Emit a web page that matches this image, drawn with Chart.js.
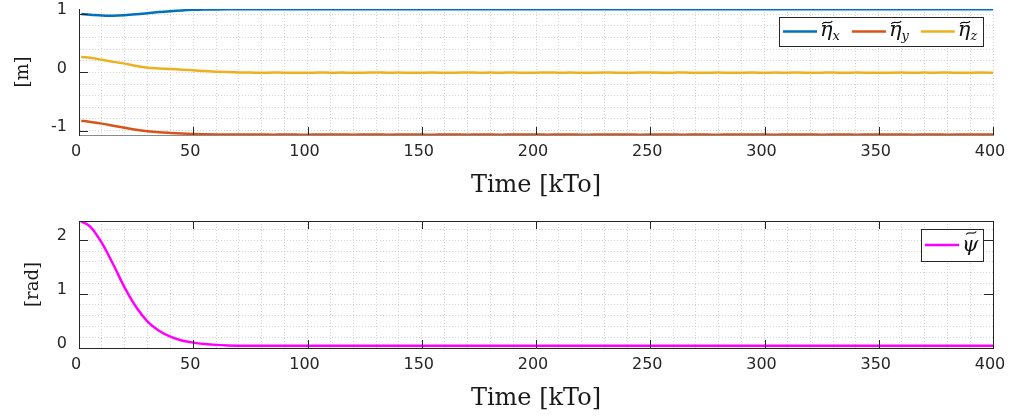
<!DOCTYPE html>
<html>
<head>
<meta charset="utf-8">
<script src="https://cdn.jsdelivr.net/npm/chart.js@4/dist/chart.umd.min.js"></script>
<style>
  html, body { margin: 0; padding: 0; background: #fff; }
  .panel { position: absolute; left: 0; width: 1009px; }
</style>
</head>
<body>
<div class="panel" style="top:0;height:205px"><canvas id="etaChart"></canvas></div>
<div class="panel" style="top:205px;height:214px"><canvas id="psiChart"></canvas></div>
<script>
// time axis [kTo]
var TIME_KTO = [1, 5, 10, 15, 20, 25, 30, 35, 40, 45, 50, 55, 60, 65, 70,
    75, 80, 85, 90, 95, 100, 105, 110, 115, 120, 125,
    130, 135, 140, 145, 150, 155, 160, 165, 170, 175, 180,
    185, 190, 195, 200, 205, 210, 215, 220, 225, 230, 235,
    240, 245, 250, 255, 260, 265, 270, 275, 280, 285, 290,
    295, 300, 305, 310, 315, 320, 325, 330, 335, 340, 345,
    350, 355, 360, 365, 370, 375, 380, 385, 390, 395, 400];

var ETA_X = [1.000, 0.990, 0.976, 0.973, 0.980, 0.995, 1.014, 1.034, 1.050, 1.063, 1.072, 1.077, 1.080, 1.082, 1.083,
    1.083, 1.084, 1.083, 1.083, 1.084, 1.083, 1.084, 1.083, 1.083, 1.084, 1.083,
    1.084, 1.083, 1.083, 1.084, 1.083, 1.083, 1.084, 1.083, 1.084, 1.083, 1.083,
    1.083, 1.084, 1.083, 1.083, 1.083, 1.084, 1.083, 1.084, 1.083, 1.083, 1.084,
    1.083, 1.083, 1.084, 1.083, 1.084, 1.083, 1.083, 1.083, 1.084, 1.083, 1.083,
    1.084, 1.083, 1.083, 1.084, 1.083, 1.083, 1.084, 1.083, 1.083, 1.084, 1.083,
    1.083, 1.084, 1.083, 1.083, 1.084, 1.083, 1.083, 1.084, 1.083, 1.083, 1.083];

var ETA_Y = [-0.830, -0.850, -0.880, -0.915, -0.950, -0.985, -1.010, -1.028, -1.040, -1.050, -1.057, -1.062, -1.065, -1.067, -1.068,
    -1.068, -1.066, -1.069, -1.067, -1.068, -1.070, -1.067, -1.068, -1.066, -1.069, -1.068,
    -1.067, -1.069, -1.068, -1.066, -1.068, -1.070, -1.067, -1.068, -1.069, -1.066, -1.068,
    -1.069, -1.067, -1.068, -1.066, -1.069, -1.068, -1.067, -1.070, -1.068, -1.066, -1.068,
    -1.067, -1.069, -1.068, -1.066, -1.068, -1.069, -1.067, -1.068, -1.070, -1.067, -1.068,
    -1.066, -1.068, -1.069, -1.067, -1.068, -1.066, -1.069, -1.068, -1.067, -1.069, -1.068,
    -1.067, -1.068, -1.066, -1.069, -1.068, -1.067, -1.069, -1.068, -1.066, -1.068, -1.068];

var ETA_Z = [0.265, 0.250, 0.215, 0.180, 0.150, 0.110, 0.080, 0.068, 0.058, 0.045, 0.034, 0.022, 0.012, 0.004, -0.002,
    -0.004, -0.008, -0.002, -0.007, -0.005, -0.009, -0.003, -0.006, -0.004, -0.008, -0.005,
    -0.002, -0.007, -0.004, -0.009, -0.005, -0.003, -0.008, -0.006, -0.002, -0.007, -0.004,
    -0.006, -0.003, -0.008, -0.005, -0.002, -0.007, -0.004, -0.009, -0.005, -0.003, -0.006,
    -0.008, -0.004, -0.002, -0.007, -0.005, -0.003, -0.008, -0.006, -0.004, -0.009, -0.005,
    -0.003, -0.007, -0.004, -0.006, -0.002, -0.008, -0.005, -0.003, -0.007, -0.004, -0.006,
    -0.009, -0.005, -0.003, -0.007, -0.004, -0.006, -0.002, -0.008, -0.005, -0.004, -0.006];

var PSI = [2.350, 2.250, 1.950, 1.550, 1.120, 0.760, 0.490, 0.320, 0.210, 0.140, 0.100, 0.075, 0.058, 0.048, 0.043,
    0.040, 0.040, 0.041, 0.040, 0.040, 0.040, 0.041, 0.040, 0.040, 0.040, 0.040,
    0.041, 0.040, 0.040, 0.040, 0.041, 0.040, 0.040, 0.040, 0.040, 0.041, 0.040,
    0.040, 0.040, 0.041, 0.040, 0.040, 0.040, 0.040, 0.041, 0.040, 0.040, 0.040,
    0.040, 0.041, 0.040, 0.040, 0.040, 0.040, 0.041, 0.040, 0.040, 0.040, 0.040,
    0.041, 0.040, 0.040, 0.040, 0.040, 0.041, 0.040, 0.040, 0.040, 0.040, 0.040,
    0.041, 0.040, 0.040, 0.040, 0.040, 0.041, 0.040, 0.040, 0.040, 0.040, 0.040];

var X_LABELS = [0, 50, 100, 150, 200, 250, 300, 350, 400];
var ETA_Y_LABELS = [-1, 0, 1];
var PSI_Y_LABELS = [0, 1, 2];
var ETA_SYMBOLS = [["η", "x"], ["η", "y"], ["η", "z"]];
var PSI_SYMBOLS = [["ψ", ""]];

var TEXT = "#262626";
var GRID = "#d4d4d4";

function points(ys) {
    return TIME_KTO.map(function (t, i) { return { x: t, y: ys[i] }; });
}

function isMajor(v, majors) {
    return majors.some(function (m) { return Math.abs(m - v) < 1e-6; });
}

// minor grid every `step` between the first and last labelled tick
function gridTicks(from, to, step) {
    var out = [];
    var n = Math.round((to - from) / step);
    for (var i = 0; i <= n; i++) out.push({ value: +(from + i * step).toFixed(4) });
    return out;
}

// inward tick marks + optional box (MATLAB style)
var axisTicks = {
    id: "axisTicks",
    afterDatasetsDraw: function (chart, args, opts) {
        var ctx = chart.ctx, a = chart.chartArea;
        var x = chart.scales.x, y = chart.scales.y;
        ctx.save();
        ctx.strokeStyle = TEXT;
        ctx.lineWidth = 1;
        ctx.beginPath();
        X_LABELS.forEach(function (v) {
            var px = Math.round(x.getPixelForValue(v)) + 0.5;
            ctx.moveTo(px, a.bottom); ctx.lineTo(px, a.bottom - 8);
            if (opts.box) { ctx.moveTo(px, a.top); ctx.lineTo(px, a.top + 8); }
        });
        opts.yLabels.forEach(function (v) {
            var py = Math.round(y.getPixelForValue(v)) + 0.5;
            ctx.moveTo(a.left, py); ctx.lineTo(a.left + 9, py);
            if (opts.box) { ctx.moveTo(a.right, py); ctx.lineTo(a.right - 9, py); }
        });
        if (opts.box) {
            ctx.moveTo(Math.round(a.left) + 0.5, Math.round(a.top) + 0.5);
            ctx.lineTo(Math.round(a.right) + 0.5, Math.round(a.top) + 0.5);
            ctx.lineTo(Math.round(a.right) + 0.5, Math.round(a.bottom) + 0.5);
        }
        ctx.stroke();
        ctx.restore();
    }
};

// legend with tilde accents and subscripts
var mathLegend = {
    id: "mathLegend",
    afterDraw: function (chart, args, opts) {
        var ctx = chart.ctx, a = chart.chartArea;
        var sets = chart.data.datasets;
        var main = "italic 21px 'DejaVu Serif'", small = "italic 13px 'DejaVu Serif'";
        var lineLen = 34, gap = 3, itemGap = 11, padL = 4, padR = 5;
        ctx.save();
        var items = sets.map(function (ds, i) {
            var sym = opts.symbols[i];
            ctx.font = main;
            var w1 = ctx.measureText(sym[0]).width;
            ctx.font = small;
            var w2 = sym[1] ? ctx.measureText(sym[1]).width + 1 : 0;
            return { color: ds.borderColor, sym: sym, w1: w1, w2: w2 };
        });
        var total = padL + padR;
        items.forEach(function (it, i) { total += lineLen + gap + it.w1 + it.w2 + (i ? itemGap : 0); });
        var right = a.right - 10, top = a.top + 8, h = opts.height;
        var left = Math.round(right - total);
        ctx.fillStyle = "#fff";
        ctx.fillRect(left, top, right - left, h);
        ctx.strokeStyle = TEXT;
        ctx.lineWidth = 1;
        ctx.strokeRect(left + 0.5, Math.round(top) + 0.5, Math.round(right - left), h);
        var cx = left + padL, cy = top + h / 2;
        items.forEach(function (it, i) {
            if (i) cx += itemGap;
            ctx.strokeStyle = it.color;
            ctx.lineWidth = 2.5;
            ctx.beginPath();
            ctx.moveTo(cx, cy); ctx.lineTo(cx + lineLen, cy);
            ctx.stroke();
            cx += lineLen + gap;
            ctx.fillStyle = "#111";
            ctx.textBaseline = "alphabetic";
            ctx.font = main;
            ctx.fillText(it.sym[0], cx, cy + opts.base);
            // tilde
            var tx = cx + it.w1 / 2 + 1, ty = cy + opts.tilde;
            ctx.strokeStyle = "#111";
            ctx.lineWidth = 1.1;
            ctx.beginPath();
            ctx.moveTo(tx - 5, ty + 1.5);
            ctx.bezierCurveTo(tx - 3, ty - 2.5, tx + 3, ty + 2.5, tx + 5, ty - 1.5);
            ctx.stroke();
            cx += it.w1;
            if (it.sym[1]) {
                ctx.font = small;
                ctx.fillText(it.sym[1], cx, cy + opts.base + 4);
                cx += it.w2;
            }
        });
        ctx.restore();
    }
};

function xScale(titlePad, height, borderColor) {
    return {
        type: "linear",
        min: 0,
        max: 400,
        afterBuildTicks: function (s) { s.ticks = gridTicks(0, 400, 10); },
        afterFit: function (s) { s.height = height; s.paddingLeft = 0; s.paddingRight = 0; },
        grid: {
            drawTicks: false,
            color: GRID,
        },
        border: { color: borderColor, dash: [1, 2] },
        ticks: {
            autoSkip: false,
            maxRotation: 0,
            padding: 7,
            labelOffset: -3,
            color: TEXT,
            font: { family: "'DejaVu Sans'", size: 16 },
            callback: function (v) { return isMajor(v, X_LABELS) ? String(v) : ""; },
        },
        title: {
            display: true,
            text: "Time [kTo]",
            color: "#1a1a1a",
            font: { family: "'DejaVu Serif'", size: 24 },
            padding: { top: 0, bottom: titlePad },
        },
    };
}

function yScale(min, max, labels, title, titlePad) {
    return {
        min: min,
        max: max,
        afterBuildTicks: function (s) { s.ticks = gridTicks(labels[0], labels[labels.length - 1] + 0.2, 0.2).filter(function (t) { return t.value <= max; }); },
        afterFit: function (s) { s.width = 79; s.paddingTop = 0; s.paddingBottom = 0; },
        grid: {
            drawTicks: false,
            color: GRID,
        },
        border: { color: TEXT, dash: [1, 2] },
        ticks: {
            autoSkip: false,
            padding: 12,
            labelOffset: -4,
            color: TEXT,
            font: { family: "'DejaVu Sans'", size: 16 },
            callback: function (v) { return isMajor(v, labels) ? String(Math.round(v)) : ""; },
        },
        title: {
            display: true,
            text: title,
            color: "#1a1a1a",
            font: { family: "'DejaVu Serif'", size: 18 },
            padding: { top: titlePad, bottom: 0 },
        },
    };
}

function lineSet(ys, color) {
    return {
        data: points(ys),
        borderColor: color,
        borderWidth: 2.5,
        pointRadius: 0,
        cubicInterpolationMode: "monotone",
        fill: false,
    };
}

var etaChart = new Chart(document.getElementById("etaChart").getContext("2d"), {
    type: "line",
    data: {
        datasets: [
            lineSet(ETA_X, "#0072BD"),
            lineSet(ETA_Y, "#D95319"),
            lineSet(ETA_Z, "#EDB120"),
        ],
    },
    options: {
        responsive: true,
        maintainAspectRatio: false,
        animation: false,
        devicePixelRatio: 1,
        layout: { padding: { top: 9, right: 16, bottom: 0, left: 0 } },
        scales: {
            x: xScale(5, 70, "#8a8a8a"),
            y: yScale(-1.075, 1.087, ETA_Y_LABELS, "[m]", 13),
        },
        plugins: {
            legend: { display: false },
            tooltip: { enabled: false },
            axisTicks: { box: false, yLabels: ETA_Y_LABELS },
            mathLegend: { symbols: ETA_SYMBOLS, height: 29, base: 4, tilde: -9 },
        },
    },
    plugins: [axisTicks, mathLegend],
});

var psiChart = new Chart(document.getElementById("psiChart").getContext("2d"), {
    type: "line",
    data: {
        datasets: [lineSet(PSI, "#FF00FF")],
    },
    options: {
        responsive: true,
        maintainAspectRatio: false,
        animation: false,
        devicePixelRatio: 1,
        layout: { padding: { top: 16, right: 16, bottom: 0, left: 0 } },
        scales: {
            x: xScale(6, 71, TEXT),
            y: yScale(0, 2.357, PSI_Y_LABELS, "[rad]", 23),
        },
        plugins: {
            legend: { display: false },
            tooltip: { enabled: false },
            axisTicks: { box: true, yLabels: PSI_Y_LABELS },
            mathLegend: { symbols: PSI_SYMBOLS, height: 32, base: 6, tilde: -12 },
        },
    },
    plugins: [axisTicks, mathLegend],
});
</script>
</body>
</html>
